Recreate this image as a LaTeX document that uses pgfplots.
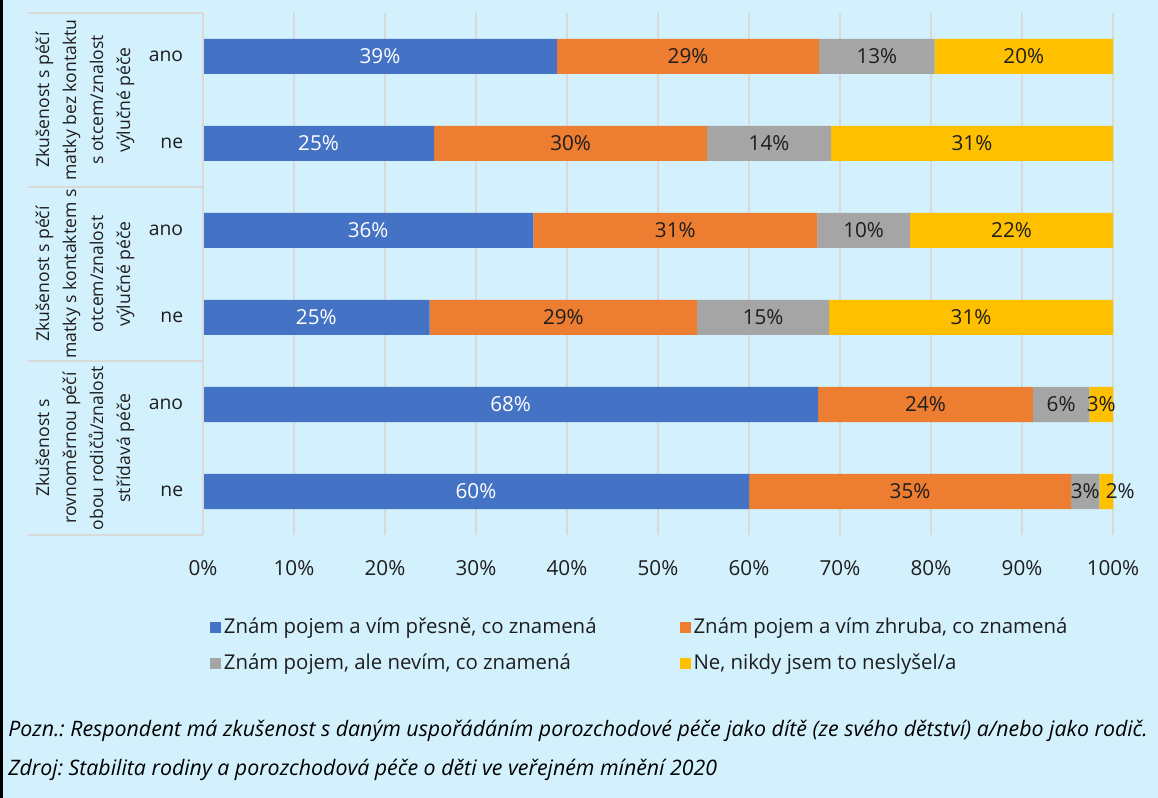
\documentclass[border=0pt]{standalone}
\usepackage{pgfplots}
\pgfplotsset{compat=1.18}
\usepackage{pgfplotstable}
\usepackage{fontspec}
\setmainfont{Open Sans}
\definecolor{bg}{RGB}{211,241,253}
\definecolor{cblue}{RGB}{68,114,196}
\definecolor{corange}{RGB}{237,125,49}
\definecolor{cgray}{RGB}{165,165,165}
\definecolor{cyellow}{RGB}{255,192,0}
\definecolor{gridc}{RGB}{217,217,217}
\definecolor{txt}{RGB}{30,30,30}

\pgfplotstableread{
y v lab dx
0 38.9 39 0
1 25.4 25 0
2 36.3 36 0
3 24.9 25 0
4 67.6 68 0
5 60.0 60 0
}\tblue
\pgfplotstableread{
y v lab dx
0 28.8 29 0
1 30.0 30 0
2 31.2 31 0
3 29.4 29 0
4 23.6 24 0
5 35.4 35 0
}\torange
\pgfplotstableread{
y v lab dx
0 12.7 13 0
1 13.6 14 0
2 10.2 10 0
3 14.5 15 0
4 6.2 6 0
5 3.1 3 0
}\tgray
\pgfplotstableread{
y v lab dx
0 19.6 20 0
1 31.0 31 0
2 22.3 22 0
3 31.2 31 0
4 2.6 3 0
5 1.5 2 10.5
}\tyellow

\begin{document}
\frenchspacing
\fontsize{14}{20}\selectfont
\begin{tikzpicture}
\fill[bg] (-152.25pt,-197.25pt) rectangle (716.25pt,401.25pt);
\fill[black] (-152.25pt,-197.25pt) rectangle (-150pt,401.25pt);
\begin{axis}[
  at={(0pt,0pt)}, anchor=south west,
  scale only axis, width=682.5pt, height=391.5pt,
  xbar stacked, bar width=26.25pt,
  xmin=0, xmax=100, ymin=-0.5, ymax=5.5, y dir=reverse,
  xtick={0,10,...,100},
  xticklabel={\pgfmathprintnumber{\tick}\%},
  ytick={0,...,5}, yticklabels={ano,ne,ano,ne,ano,ne},
  /pgf/number format/assume math mode=true,
  axis line style={draw=none}, major tick length=0pt,
  xmajorgrids, grid style={draw=gridc, line width=1.5pt},
  x tick label style={yshift=-14pt, font=\fontsize{15.5}{18}\selectfont, text=txt},
  y tick label style={xshift=-10pt, font=\fontsize{14.5}{17}\selectfont, text=txt},
  point meta=explicit,
  nodes near coords={\pgfmathprintnumber{\pgfplotspointmeta}\%},
  visualization depends on={\thisrow{dx} \as \rawdx},
  every node near coord/.append style={anchor=center, xshift={\rawdx*1pt}, font=\fontsize{15.5}{18}\selectfont, text=txt},
  legend columns=2,
  legend cell align=left,
  legend style={draw=none, fill=none, at={(0.0033,-0.148)}, anchor=north west,
    font=\fontsize{15.3}{18}\selectfont, text=txt, row sep=9.5pt},
  legend image code/.code={\fill[#1] (0pt,-4.1pt) rectangle (8.25pt,4.1pt);},
]
\addplot[fill=cblue, draw=none, every node near coord/.append style={text=white}] table[x=v, y=y, meta=lab] {\tblue};
\addlegendentry{\makebox[340pt][l]{Znám pojem a vím přesně, co znamená}}
\addplot[fill=corange, draw=none] table[x=v, y=y, meta=lab] {\torange};
\addlegendentry{Znám pojem a vím zhruba, co znamená}
\addplot[fill=cgray, draw=none] table[x=v, y=y, meta=lab] {\tgray};
\addlegendentry{\makebox[340pt][l]{Znám pojem, ale nevím, co znamená}}
\addplot[fill=cyellow, draw=none] table[x=v, y=y, meta=lab] {\tyellow};
\addlegendentry{Ne, nikdy jsem to neslyšel/a}
\end{axis}
\draw[gridc, line width=1.5pt] (0pt,0pt) -- (0pt,391.5pt);
\foreach \yy in {0,130.5,261,391.5} {
  \draw[gridc, line width=1.5pt] (-131.25pt,\yy pt) -- (0pt,\yy pt);
}
\begin{scope}[every node/.style={rotate=90, align=center, text=txt, font=\fontsize{13.2}{20.25}\selectfont}]
\node at (-88.5pt,326.25pt) {Zkušenost s péčí\\matky bez kontaktu\\s otcem/znalost\\výlučné péče};
\node at (-88.5pt,195.75pt) {Zkušenost s péčí\\matky s kontaktem s\\otcem/znalost\\výlučné péče};
\node at (-88.5pt,65.25pt) {Zkušenost s\\rovnoměrnou péčí\\obou rodičů/znalost\\střídavá péče};
\end{scope}
\node[anchor=west, inner sep=0pt, font=\itshape\fontsize{16}{19}\selectfont] at (-146.25pt,-147pt) {Pozn.: Respondent má zkušenost s daným uspořádáním porozchodové péče jako dítě (ze svého dětství) a/nebo jako rodič.};
\node[anchor=west, inner sep=0pt, font=\itshape\fontsize{16}{19}\selectfont] at (-146.25pt,-176.25pt) {Zdroj: Stabilita rodiny a porozchodová péče o děti ve veřejném mínění 2020};
\pgfresetboundingbox
\path (-152.25pt,-197.25pt) rectangle (716.25pt,401.25pt);
\end{tikzpicture}
\end{document}
